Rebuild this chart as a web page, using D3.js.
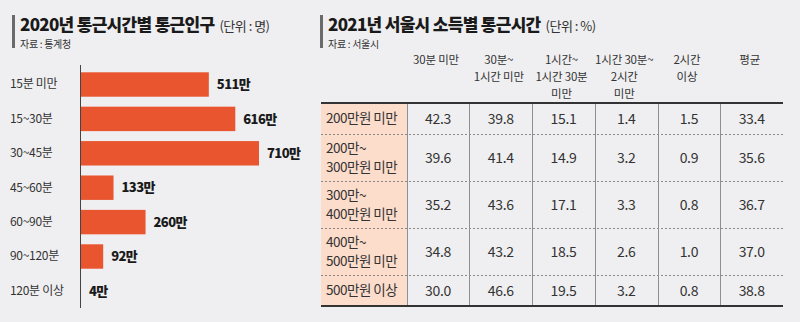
<!DOCTYPE html>
<html><head><meta charset="utf-8">
<script src="https://cdn.jsdelivr.net/npm/d3@7/dist/d3.min.js"></script>
<style>
html,body{margin:0;padding:0;background:#efeff1;}
svg{display:block;font-family:"Noto Sans CJK KR","Noto Sans",sans-serif;}
</style></head><body>
<svg id="c" width="800" height="322"></svg>
<script>
// ---- Left chart data ----
const timeCats = ["15분 미만","15~30분","30~45분","45~60분","60~90분","90~120분","120분 이상"];
const commuters = [511,616,710,133,260,92,4]; // 만 명

// ---- Right table data ----
const colHeaders = ["30분 미만","30분~\n1시간 미만","1시간~\n1시간 30분\n미만","1시간 30분~\n2시간\n미만","2시간\n이상","평균"];
const incomeRows = ["200만원 미만","200만~\n300만원 미만","300만~\n400만원 미만","400만~\n500만원 미만","500만원 이상"];
const under30 = [42.3,39.6,35.2,34.8,30.0];
const from30to60 = [39.8,41.4,43.6,43.2,46.6];
const from60to90 = [15.1,14.9,17.1,18.5,19.5];
const from90to120 = [1.4,3.2,3.3,2.6,3.2];
const over120 = [1.5,0.9,0.8,1.0,0.8];
const average = [33.4,35.6,36.7,37.0,38.8];
const tableCols = [under30,from30to60,from60to90,from90to120,over120,average];

const svg = d3.select("#c");
svg.append("rect").attr("width",800).attr("height",322).attr("fill","#efeff1");

function titleBlock(x, title, unit, src){
  const g = svg.append("g");
  g.append("rect").attr("x",x).attr("y",15).attr("width",3).attr("height",33).attr("fill","#6b6b6b");
  const t = g.append("text").attr("x",x+8).attr("y",31).attr("fill","#1a1a1a");
  t.append("tspan").attr("font-size",17).attr("font-weight",800).attr("letter-spacing",-0.7).text(title);
  t.append("tspan").attr("font-size",13).attr("letter-spacing",-0.5).attr("dx",5).attr("fill","#333").text(unit);
  g.append("text").attr("x",x+8).attr("y",48).attr("font-size",10).attr("letter-spacing",-0.3).attr("fill","#333").text(src);
}
titleBlock(12,"2020년 통근시간별 통근인구","(단위 : 명)","자료 : 통계청");
titleBlock(320,"2021년 서울시 소득별 통근시간","(단위 : %)","자료 : 서울시");

// ---- Left bar chart ----
const y = d3.scaleBand().domain(timeCats).range([67.3,308.1]).paddingInner(0.29).paddingOuter(0.145);
const x = d3.scaleLinear().domain([0,d3.max(commuters)]).range([80,259]);
const bars = svg.append("g");
bars.selectAll("rect").data(timeCats).join("rect")
  .attr("x",x(0)).attr("y",d=>y(d))
  .attr("width",(d,i)=>x(commuters[i])-x(0)).attr("height",y.bandwidth())
  .attr("fill","#e9552f");
bars.selectAll("text.val").data(timeCats).join("text").attr("class","val")
  .attr("x",(d,i)=>x(commuters[i])+8).attr("y",d=>y(d)+y.bandwidth()/2)
  .attr("dy","0.36em").attr("font-size",13).attr("font-weight",800).attr("letter-spacing",-0.6)
  .attr("fill","#1a1a1a").text((d,i)=>commuters[i]+"만");
const yAxis = d3.axisLeft(y).tickSize(0).tickPadding(0);
const ag = svg.append("g").attr("transform",`translate(${x(0)},0)`).call(yAxis);
ag.select(".domain").attr("stroke","#444").attr("stroke-width",1).attr("d",`M0.5,65V308`);
ag.selectAll(".tick text").attr("x",10-x(0)).attr("text-anchor","start")
  .attr("font-size",12).attr("letter-spacing",-0.3).attr("fill","#333")
  .attr("font-family","\"Noto Sans CJK KR\",sans-serif");

// ---- Right table ----
const tLeft = 321, tRight = 783, labelRight = 406.7, tTop = 103;
const cx = d3.scaleBand().domain(colHeaders).range([labelRight,tRight]).padding(0);
const rowLines = incomeRows.map(r=>r.split("\n").length);
const rowTops = []; let acc = tTop;
rowLines.forEach(n=>{ rowTops.push(acc); acc += 31 + 16*(n-1); });
const tBottom = acc;
const rowH = rowLines.map(n=>31+16*(n-1));

const tg = svg.append("g");
// header labels
colHeaders.forEach(h=>{
  const t = tg.append("text").attr("text-anchor","middle").attr("font-size",11.5).attr("letter-spacing",-0.2).attr("fill","#333");
  h.split("\n").forEach((line,i)=>{
    t.append("tspan").attr("x",cx(h)+cx.bandwidth()/2-2).attr("y",64+i*16.8).text(line);
  });
});
// pink label column
tg.selectAll("rect.lab").data(incomeRows).join("rect").attr("class","lab")
  .attr("x",tLeft).attr("y",(d,i)=>rowTops[i]).attr("width",labelRight-tLeft).attr("height",(d,i)=>rowH[i])
  .attr("fill","#fcdccb");
// dashed row separators
incomeRows.slice(0,-1).forEach((r,i)=>{
  const yy = rowTops[i]+rowH[i];
  tg.append("line").attr("x1",tLeft).attr("x2",tRight).attr("y1",yy+0.5).attr("y2",yy+0.5)
    .attr("stroke","#8a8a8a").attr("stroke-width",1).attr("stroke-dasharray","2,2");
});
// vertical column lines
[labelRight,...colHeaders.slice(1).map(h=>cx(h))].forEach(xx=>{
  tg.append("line").attr("x1",Math.round(xx)+0.5).attr("x2",Math.round(xx)+0.5).attr("y1",tTop).attr("y2",tBottom)
    .attr("stroke","#8f8f8f").attr("stroke-width",1);
});
// thick top/bottom lines
tg.append("line").attr("x1",tLeft).attr("x2",tRight).attr("y1",tTop).attr("y2",tTop).attr("stroke","#333").attr("stroke-width",2);
tg.append("line").attr("x1",tLeft).attr("x2",tRight).attr("y1",tBottom).attr("y2",tBottom).attr("stroke","#333").attr("stroke-width",2);
// row labels
incomeRows.forEach((r,i)=>{
  const lines = r.split("\n");
  const mid = rowTops[i]+rowH[i]/2;
  const t = tg.append("text").attr("font-size",13.5).attr("letter-spacing",-0.5).attr("fill","#333");
  lines.forEach((l,j)=>{
    t.append("tspan").attr("x",326).attr("y",mid+(j-(lines.length-1)/2)*19.5).attr("dy","0.36em").text(l);
  });
});
// values
const fmt = d3.format(".1f");
tableCols.forEach((col,ci)=>{
  const h = colHeaders[ci];
  col.forEach((v,ri)=>{
    tg.append("text").attr("x",cx(h)+cx.bandwidth()/2).attr("y",rowTops[ri]+rowH[ri]/2).attr("dy","0.36em")
      .attr("text-anchor","middle").attr("font-size",14).attr("letter-spacing",-0.3).attr("fill","#333").text(fmt(v));
  });
});
</script>
</body></html>
